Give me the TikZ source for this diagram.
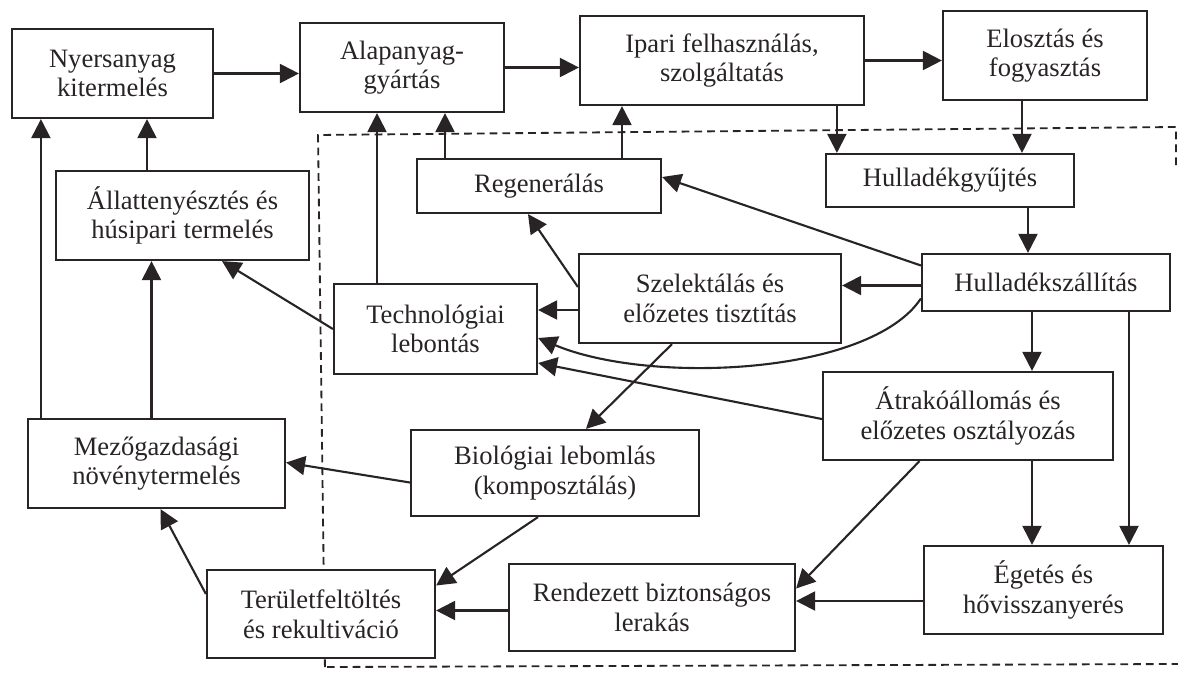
\documentclass[tikz,border=0pt]{standalone}
\usepackage{fontspec}
\setmainfont{Liberation Serif}
\usetikzlibrary{arrows.meta,calc}
\definecolor{ink}{RGB}{40,36,37}
\newcommand\boxat[6]{\node[box, minimum width={(#4-#3)*0.025cm}, minimum height={(#6-#5)*0.025cm}] (#1) at ({(#3+#4)/2},{(#5+#6)/2}) {#2};}
\begin{document}
\begin{tikzpicture}[x=0.025cm, y=-0.025cm,
  box/.style={draw=ink, fill=white, line width=1.55pt, align=center, inner sep=0pt,
    font=\fontsize{18.9}{21}\selectfont, text=ink},
  arr/.style={draw=ink, line width=1.5pt, -{Triangle[length=13.5pt,width=13.5pt]}},
  dashline/.style={draw=ink, line width=1.3pt, dash pattern=on 5.5pt off 3.6pt}]
\useasboundingbox (0,0) rectangle (1178,672);
% dashed boundary
\draw[dashline] (1176,165) -- (1176,127) -- (318,135) -- (325,672);
\draw[dashline] (327,667) -- (1178,664);
% nodes
\boxat{nyers}{Nyersanyag\\kitermelés}{12}{213}{29}{118}
\boxat{alap}{Alapanyag-\\gyártás}{300}{504}{23}{112}
\boxat{ipari}{Ipari felhasználás,\\szolgáltatás}{580}{864}{16}{105}
\boxat{eloszt}{Elosztás és\\fogyasztás}{943}{1147}{11}{100}
\boxat{hgy}{Hulladékgyűjtés}{826}{1074}{154}{207}
\boxat{regen}{Regenerálás}{417}{661}{159}{213}
\boxat{allat}{Állattenyésztés és\\húsipari termelés}{56}{309}{171}{260}
\boxat{hszall}{Hulladékszállítás}{922}{1170}{254}{311}
\boxat{szel}{Szelektálás és\\előzetes tisztítás}{579}{841}{254}{343}
\boxat{techn}{Technológiai\\lebontás}{334}{537}{284}{374}
\boxat{atrako}{Átrakóállomás és\\előzetes osztályozás}{823}{1113}{372}{460}
\boxat{mezo}{Mezőgazdasági\\növénytermelés}{28}{285}{419}{508}
\boxat{bio}{Biológiai lebomlás\\(komposztálás)}{411}{699}{430}{516}
\boxat{eget}{Égetés és\\hővisszanyerés}{924}{1163}{546}{634}
\boxat{rend}{Rendezett biztonságos\\lerakás}{509}{795}{564}{651}
\boxat{terul}{Területfeltöltés\\és rekultiváció}{207}{435}{570}{658}
% helper coordinates
\coordinate (v1) at ($(hgy.north west)+(12,0)$);
\coordinate (v2) at ($(eloszt.south)+(-23,0)$);
\coordinate (v3) at ($(hgy.south)+(78,0)$);
\coordinate (v4) at ($(hszall.south)+(-14,0)$);
\coordinate (v5) at ($(atrako.south)+(64,0)$);
\coordinate (v6) at ($(hszall.south)+(83,0)$);
\coordinate (v7) at ($(regen.north)+(-94,0)$);
\coordinate (v8) at ($(regen.north)+(83,0)$);
\coordinate (v9) at ($(techn.north)+(-58.5,0)$);
\coordinate (v10) at ($(allat.north)+(-35.5,0)$);
\coordinate (v11) at ($(mezo.north)+(-5,0)$);
\coordinate (v12) at ($(mezo.north west)+(14,0)$);
\coordinate (h1) at ($(hszall.west)+(0,3)$);
\coordinate (h2) at ($(szel.west)+(0,11.5)$);
\coordinate (h3) at ($(eget.west)+(0,11)$);
\coordinate (h4) at ($(rend.west)+(0,3)$);
% horizontal arrows
\draw[arr] (nyers.east) -- (nyers.east -| alap.west);
\draw[arr] (alap.east) -- (alap.east -| ipari.west);
\draw[arr] (ipari.east) -- (ipari.east -| eloszt.west);
\draw[arr] (h1) -- (h1 -| szel.east);
\draw[arr] (h2) -- (h2 -| techn.east);
\draw[arr] (h3) -- (h3 -| rend.east);
\draw[arr] (h4) -- (h4 -| terul.east);
% vertical arrows
\draw[arr] (v1 |- ipari.south) -- (v1);
\draw[arr] (v2) -- (v2 |- hgy.north);
\draw[arr] (v3) -- (v3 |- hszall.north);
\draw[arr] (v4) -- (v4 |- atrako.north);
\draw[arr] (v5) -- (v5 |- eget.north);
\draw[arr] (v6) -- (v6 |- eget.north);
\draw[arr] (v7) -- (v7 |- alap.south);
\draw[arr] (v8) -- (v8 |- ipari.south);
\draw[arr] (v9) -- (v9 |- alap.south);
\draw[arr] (v10) -- (v10 |- nyers.south);
\draw[arr] (v11) -- (v11 |- allat.south);
\draw[arr] (v12) -- (v12 |- nyers.south);
% diagonal arrows
\draw[arr] ($(hszall.west)+(0,-17)$) -- ($(regen.east)+(0,-9)$);
\draw[arr] (techn.west) -- ($(allat.south)+(39.5,0)$);
\draw[arr] ($(szel.west)+(0,-11.5)$) -- ($(regen.south)+(-11,0)$);
\draw[arr] ($(szel.south)+(-38,0)$) -- ($(bio.north)+(31,0)$);
\draw[arr] ($(atrako.west)+(0,3)$) -- ($(techn.east)+(0,34)$);
\draw[arr] ($(hszall.west)+(0,16)$) .. controls (870,375) and (650,385) .. ($(techn.east)+(0,9)$);
\draw[arr] ($(atrako.south)+(-48.5,0)$) -- ($(rend.east)+(0,-19)$);
\draw[arr] ($(bio.south)+(-17,0)$) -- ($(terul.east)+(0,-28.5)$);
\draw[arr] ($(bio.west)+(0,9.5)$) -- ($(mezo.east)+(0,-1)$);
\draw[arr] ($(terul.west)+(0,-20)$) -- ($(mezo.south)+(4,0)$);
\end{tikzpicture}
\end{document}
